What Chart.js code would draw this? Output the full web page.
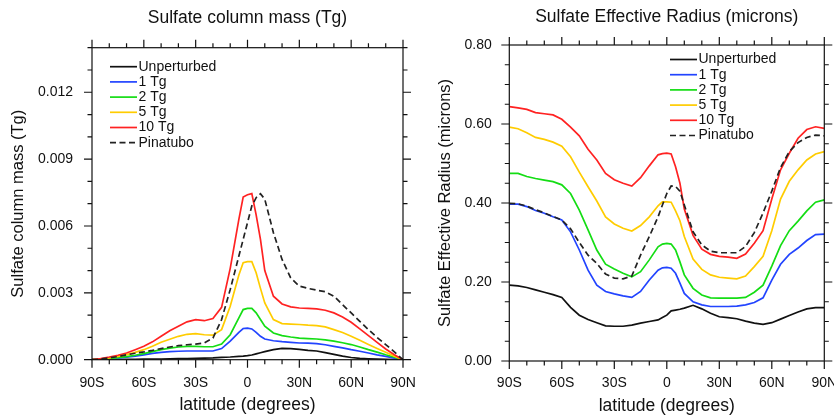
<!DOCTYPE html>
<html>
<head>
<meta charset="utf-8">
<script src="https://cdn.jsdelivr.net/npm/chart.js@4.4.1/dist/chart.umd.min.js"></script>
<style>
  html, body { margin: 0; padding: 0; background: #fff; }
  #wrap { position: relative; width: 834px; height: 420px; }
  .panel { position: absolute; top: 0; width: 417px; height: 420px; }
</style>
</head>
<body>
<div id="wrap">
  <div class="panel" style="left:0"><canvas id="massChart" width="417" height="420"></canvas></div>
  <div class="panel" style="left:417px"><canvas id="radiusChart" width="417" height="420"></canvas></div>
</div>
<script>
// latitudes the curves were read at
const lats = [-90, -85, -80, -75, -70, -65, -60, -55, -50, -45, -40, -35, -30, -25, -20, -15, -10, -5, -2.5,
    0, 2.5, 5, 7.5, 10, 15, 20, 25, 30, 35, 40, 45, 50, 55, 60, 65, 70, 75, 80, 85, 90];

const seriesNames = ["Unperturbed", "1 Tg", "2 Tg", "5 Tg", "10 Tg", "Pinatubo"];

// sulfate column mass (Tg)
const massUnpert = [0, 0.000003, 0.000006, 0.00001, 0.000014, 0.000018, 0.000022, 0.000027, 0.000032, 0.000038,
    0.000045, 0.00005, 0.00006, 0.00007, 0.00008, 0.0001, 0.00012, 0.00015, 0.00016, 0.00018, 0.00021, 0.00026,
    0.00031, 0.00036, 0.00045, 0.00051, 0.0005, 0.00046, 0.00042, 0.00039, 0.00032, 0.00024, 0.00016, 0.0001,
    0.00006, 0.00004, 0.000025, 0.000015, 0.000008, 0];
const mass1Tg = [0, 0.000015, 0.00004, 0.00007, 0.00011, 0.00016, 0.00022, 0.00028, 0.00033, 0.00036, 0.00038,
    0.00039, 0.00039, 0.00039, 0.00039, 0.0005, 0.00083, 0.00123, 0.0014, 0.00142, 0.00138, 0.00123, 0.00105,
    0.00093, 0.00085, 0.00081, 0.00078, 0.00075, 0.00074, 0.00072, 0.00067, 0.0006, 0.00053, 0.00045, 0.00038,
    0.0003, 0.00022, 0.00015, 0.00007, 0];
const mass2Tg = [0, 0.00002, 0.00005, 0.00009, 0.00014, 0.0002, 0.00027, 0.00036, 0.00045, 0.00052, 0.00057,
    0.0006, 0.0006, 0.00058, 0.00058, 0.0007, 0.00112, 0.00188, 0.00225, 0.0023, 0.0023, 0.0021, 0.0018, 0.0015,
    0.0012, 0.00108, 0.00102, 0.00097, 0.00095, 0.00093, 0.00089, 0.00083, 0.00076, 0.00068, 0.00057, 0.00045,
    0.00034, 0.00022, 0.00011, 0];
const mass5Tg = [0, 0.00003, 0.00008, 0.00015, 0.00023, 0.00033, 0.00045, 0.0006, 0.00078, 0.00092, 0.00105,
    0.00114, 0.00117, 0.00112, 0.0011, 0.00135, 0.0024, 0.0038, 0.00435, 0.0044, 0.0044, 0.0039, 0.0032, 0.00255,
    0.0018, 0.00162, 0.0016, 0.00158, 0.00155, 0.00153, 0.00147, 0.00135, 0.00122, 0.00105, 0.00087, 0.00068,
    0.0005, 0.00033, 0.00016, 0];
const mass10Tg = [0, 0.00005, 0.00012, 0.0002, 0.0003, 0.00045, 0.0006, 0.0008, 0.00105, 0.0013, 0.0015, 0.0017,
    0.0018, 0.00175, 0.00185, 0.00235, 0.0041, 0.0063, 0.0073, 0.0074, 0.00745, 0.0065, 0.0054, 0.004, 0.00285,
    0.0025, 0.00237, 0.00232, 0.0023, 0.00228, 0.00222, 0.0021, 0.00192, 0.00168, 0.00138, 0.00108, 0.00078,
    0.00048, 0.00022, 0];
const massPina = [0, 0.00003, 0.00008, 0.00014, 0.00022, 0.00029, 0.00035, 0.00042, 0.0005, 0.00057, 0.00063,
    0.00067, 0.0007, 0.00075, 0.00097, 0.0018, 0.00315, 0.00465, 0.0054, 0.00615, 0.0069, 0.00727, 0.00745, 0.0072,
    0.0057, 0.0045, 0.00367, 0.0033, 0.0032, 0.00312, 0.00305, 0.00285, 0.00247, 0.0021, 0.00172, 0.00135, 0.001,
    0.00068, 0.00035, 0];

// sulfate effective radius (microns)
const radUnpert = [0.192, 0.19, 0.186, 0.18, 0.174, 0.168, 0.161, 0.136, 0.116, 0.105, 0.097, 0.089, 0.088, 0.088,
    0.091, 0.096, 0.1, 0.104, 0.11, 0.116, 0.127, 0.129, 0.131, 0.134, 0.141, 0.132, 0.121, 0.112, 0.11, 0.107,
    0.101, 0.096, 0.093, 0.097, 0.106, 0.115, 0.124, 0.132, 0.135, 0.135];
const rad1Tg = [0.397, 0.397, 0.391, 0.381, 0.374, 0.365, 0.357, 0.327, 0.281, 0.23, 0.192, 0.176, 0.17, 0.165,
    0.161, 0.176, 0.205, 0.23, 0.236, 0.237, 0.235, 0.222, 0.197, 0.171, 0.15, 0.142, 0.138, 0.138, 0.138, 0.139,
    0.142, 0.148, 0.16, 0.205, 0.245, 0.27, 0.286, 0.305, 0.32, 0.321];
const rad2Tg = [0.475, 0.475, 0.467, 0.462, 0.458, 0.454, 0.446, 0.424, 0.382, 0.332, 0.281, 0.245, 0.233, 0.222,
    0.213, 0.226, 0.256, 0.289, 0.296, 0.298, 0.296, 0.281, 0.251, 0.218, 0.184, 0.167, 0.16, 0.159, 0.159, 0.159,
    0.161, 0.174, 0.192, 0.24, 0.292, 0.33, 0.354, 0.38, 0.402, 0.408];
const rad5Tg = [0.592, 0.588, 0.578, 0.566, 0.561, 0.554, 0.544, 0.517, 0.478, 0.441, 0.405, 0.365, 0.347, 0.336,
    0.329, 0.343, 0.365, 0.393, 0.403, 0.403, 0.402, 0.38, 0.355, 0.315, 0.258, 0.232, 0.218, 0.212, 0.21, 0.208,
    0.215, 0.239, 0.265, 0.33, 0.41, 0.455, 0.484, 0.509, 0.524, 0.53];
const rad10Tg = [0.644, 0.641, 0.637, 0.629, 0.626, 0.623, 0.612, 0.592, 0.57, 0.536, 0.509, 0.475, 0.459, 0.45,
    0.443, 0.464, 0.494, 0.522, 0.525, 0.526, 0.524, 0.492, 0.45, 0.385, 0.318, 0.283, 0.27, 0.265, 0.263, 0.26,
    0.271, 0.298, 0.33, 0.41, 0.484, 0.526, 0.564, 0.586, 0.593, 0.589];
const radPina = [0.399, 0.398, 0.392, 0.383, 0.375, 0.366, 0.357, 0.335, 0.3, 0.268, 0.247, 0.22, 0.21, 0.208,
    0.215, 0.268, 0.315, 0.365, 0.395, 0.424, 0.443, 0.442, 0.43, 0.395, 0.327, 0.294, 0.278, 0.274, 0.274, 0.274,
    0.29, 0.325, 0.375, 0.43, 0.49, 0.53, 0.553, 0.566, 0.572, 0.57];

// axis ticks
const latTicks = [-90, -60, -30, 0, 30, 60, 90];
const latLabels = ["90S", "60S", "30S", "0", "30N", "60N", "90N"];
const latMinor = [-90, -80, -70, -60, -50, -40, -30, -20, -10, 0, 10, 20, 30, 40, 50, 60, 70, 80, 90];
const massTicks = [0, 0.003, 0.006, 0.009, 0.012];
const massMinor = [0, 0.001, 0.002, 0.003, 0.004, 0.005, 0.006, 0.007, 0.008, 0.009, 0.01, 0.011, 0.012, 0.013, 0.014];
const radTicks = [0, 0.2, 0.4, 0.6, 0.8];
const radMinor = [0, 0.05, 0.1, 0.15, 0.2, 0.25, 0.3, 0.35, 0.4, 0.45, 0.5, 0.55, 0.6, 0.65, 0.7, 0.75, 0.8];

const lineColors = ["#111111", "#2244ff", "#14dd14", "#ffcc00", "#ff2222", "#222222"];
const fam = "'Liberation Sans', Arial, Helvetica, sans-serif";

Chart.defaults.font.family = fam;
Chart.defaults.color = "#111";

function buildSets(seriesList) {
    return seriesList.map((vals, i) => ({
        label: seriesNames[i],
        data: lats.map((lat, k) => ({ x: lat, y: vals[k] })),
        borderColor: lineColors[i],
        borderWidth: 1.7,
        borderDash: i === 5 ? [6, 3.5] : [],
        pointRadius: 0,
        tension: 0,
        fill: false,
        order: 5 - i
    }));
}

// frame, outward ticks on every side, title and the legend
const nclFrame = {
    id: "nclFrame",
    afterDraw(chart, args, o) {
        const { ctx, chartArea: a, scales: { x, y } } = chart;
        const isMajor = (list, v) => list.some(m => Math.abs(m - v) < 1e-9);
        ctx.save();
        ctx.strokeStyle = "#111";
        ctx.lineWidth = 1.2;
        ctx.strokeRect(a.left, a.top, a.right - a.left, a.bottom - a.top);

        ctx.beginPath();
        latMinor.forEach(v => {
            const len = isMajor(latTicks, v) ? 8 : 4.5;
            const px = x.getPixelForValue(v);
            ctx.moveTo(px, a.bottom); ctx.lineTo(px, a.bottom + len);
            ctx.moveTo(px, a.top); ctx.lineTo(px, a.top - len);
        });
        o.yMinor.forEach(v => {
            const len = isMajor(o.yMajor, v) ? 8 : 4.5;
            const py = y.getPixelForValue(v);
            ctx.moveTo(a.left, py); ctx.lineTo(a.left - len, py);
            ctx.moveTo(a.right, py); ctx.lineTo(a.right + len, py);
        });
        ctx.stroke();

        ctx.fillStyle = "#111";
        ctx.font = `17.5px ${fam}`;
        ctx.textAlign = "center";
        ctx.textBaseline = "middle";
        ctx.fillText(o.title, (a.left + a.right) / 2, o.titleY);

        ctx.font = `14px ${fam}`;
        ctx.textAlign = "left";
        chart.data.datasets.forEach((ds, i) => {
            const lx = a.left + o.legendX;
            const ly = a.top + o.legendY + i * 15.2;
            ctx.strokeStyle = ds.borderColor;
            ctx.lineWidth = ds.borderWidth;
            ctx.setLineDash(ds.borderDash);
            ctx.beginPath();
            ctx.moveTo(lx, ly);
            ctx.lineTo(lx + 27, ly);
            ctx.stroke();
            ctx.setLineDash([]);
            ctx.fillText(ds.label, lx + 28.5, ly);
        });
        ctx.restore();
    }
};

function makeChart(id, sets, c) {
    return new Chart(document.getElementById(id), {
        type: "line",
        data: { datasets: sets },
        plugins: [nclFrame],
        options: {
            responsive: false,
            animation: false,
            layout: { autoPadding: false, padding: { left: 0, right: c.padRight, top: c.padTop, bottom: 0 } },
            plugins: {
                legend: { display: false },
                tooltip: { enabled: false },
                nclFrame: {
                    title: c.title, titleY: c.titleY, legendX: c.legendX, legendY: c.legendY,
                    yMinor: c.yMinor, yMajor: c.yTicks
                }
            },
            scales: {
                x: {
                    type: "linear", min: -90, max: 90,
                    grid: { display: false, drawTicks: false },
                    border: { display: false },
                    afterBuildTicks: s => { s.ticks = latTicks.map(v => ({ value: v })); },
                    afterFit: s => { s.height = c.xHeight; s.paddingLeft = 0; s.paddingRight = 0; },
                    ticks: {
                        autoSkip: false, maxRotation: 0, padding: c.xTickPad,
                        font: { size: 14 }, color: "#111",
                        callback: (v, i) => latLabels[i]
                    },
                    title: {
                        display: true, text: "latitude (degrees)", color: "#111",
                        font: { size: 17.5 }, padding: { top: 0, bottom: c.xTitlePad }
                    }
                },
                y: {
                    type: "linear", min: c.yMin, max: c.yMax,
                    grid: { display: false, drawTicks: false },
                    border: { display: false },
                    afterBuildTicks: s => { s.ticks = c.yTicks.map(v => ({ value: v })); },
                    afterFit: s => { s.width = c.yWidth; s.paddingTop = 0; s.paddingBottom = 0; },
                    ticks: {
                        padding: c.yTickPad, font: { size: 14 }, color: "#111",
                        callback: v => v.toFixed(c.decimals)
                    },
                    title: {
                        display: true, text: c.yTitle, color: "#111",
                        font: { size: 16.5 }, padding: { top: c.yTitlePad, bottom: 0 }
                    }
                }
            }
        }
    });
}

makeChart("massChart", buildSets([massUnpert, mass1Tg, mass2Tg, mass5Tg, mass10Tg, massPina]), {
    title: "Sulfate column mass (Tg)", titleY: 18.5,
    yTitle: "Sulfate column mass (Tg)",
    yMin: 0, yMax: 0.014, yTicks: massTicks, yMinor: massMinor, decimals: 3,
    padTop: 47.7, padRight: 14, yWidth: 92, xHeight: 60.3,
    yTickPad: 19, yTitlePad: 8.6, xTickPad: 15.1, xTitlePad: 4,
    legendX: 18, legendY: 19
});

makeChart("radiusChart", buildSets([radUnpert, rad1Tg, rad2Tg, rad5Tg, rad10Tg, radPina]), {
    title: "Sulfate Effective Radius (microns)", titleY: 17,
    yTitle: "Sulfate Effective Radius (microns)",
    yMin: 0, yMax: 0.8, yTicks: radTicks, yMinor: radMinor, decimals: 2,
    padTop: 45, padRight: 9.7, yWidth: 92.3, xHeight: 59,
    yTickPad: 17.6, yTitlePad: 18.1, xTickPad: 14.1, xTitlePad: 3.7,
    legendX: 160.7, legendY: 14.5
});
</script>
</body>
</html>
